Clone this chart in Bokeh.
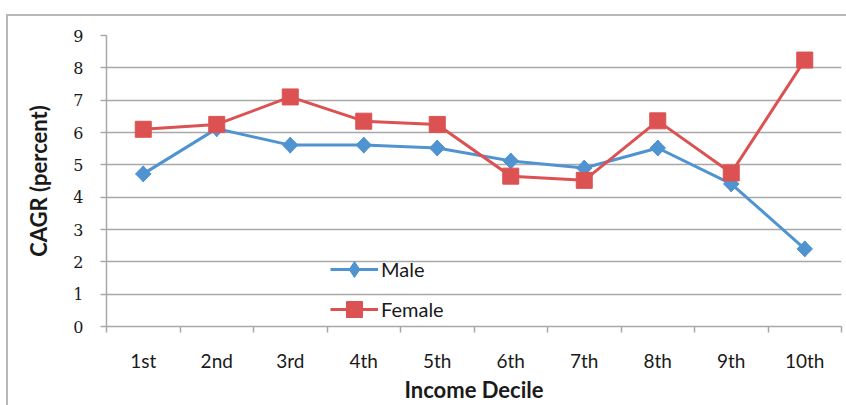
import math
from bokeh.plotting import figure
from bokeh.models import FixedTicker, Range1d, Legend, LegendItem
from bokeh.embed import file_html
from bokeh.resources import INLINE

categories = ["1st", "2nd", "3rd", "4th", "5th", "6th", "7th", "8th", "9th", "10th"]
male = [4.72, 6.12, 5.61, 5.61, 5.52, 5.12, 4.90, 5.52, 4.41, 2.40]
female = [6.10, 6.25, 7.10, 6.35, 6.25, 4.65, 4.52, 6.36, 4.75, 8.24]
y_ticks = [0, 1, 2, 3, 4, 5, 6, 7, 8, 9]

xs = list(range(1, len(categories) + 1))
boundaries = [i + 0.5 for i in range(0, len(categories) + 1)]

BLUE = "#4f94d0"
RED = "#dc5252"
GRID = "#a8a8a8"
TEXT = "#1a1a1a"

p = figure(width=846, height=405, output_backend="svg", toolbar_location=None,
           x_range=Range1d(0.5, len(categories) + 0.5), y_range=Range1d(0, 9),
           min_border_left=106, min_border_right=5, min_border_top=35, min_border_bottom=78)
p.outline_line_color = None
p.background_fill_color = "white"
p.border_fill_alpha = 0
p.styles = {
    "background": "linear-gradient(#b8b8b8,#b8b8b8) 6px 14px / 2px 100% no-repeat, "
                  "linear-gradient(#b8b8b8,#b8b8b8) 6px 14px / 100% 2px no-repeat, white"
}

# grid
p.xgrid.grid_line_color = None
p.ygrid.grid_line_color = GRID
p.ygrid.grid_line_width = 1.5
p.ygrid.ticker = FixedTicker(ticks=y_ticks)

# y axis
p.yaxis.ticker = FixedTicker(ticks=y_ticks)
p.yaxis.axis_line_color = GRID
p.yaxis.axis_line_width = 1.5
p.yaxis.major_tick_line_color = GRID
p.yaxis.major_tick_line_width = 1.5
p.yaxis.major_tick_out = 6
p.yaxis.major_tick_in = 0
p.yaxis.minor_tick_line_color = None
p.yaxis.major_label_text_font = "DejaVu Serif"
p.yaxis.major_label_text_font_size = "16px"
p.yaxis.major_label_text_color = TEXT
p.yaxis.major_label_standoff = 17
p.yaxis.axis_label = "CAGR (percent)"
p.yaxis.axis_label_text_font = "Lato"
p.yaxis.axis_label_text_font_style = "bold"
p.yaxis.axis_label_text_font_size = "22px"
p.yaxis.axis_label_text_color = TEXT
p.yaxis.axis_label_standoff = 18

# x axis
p.xaxis.ticker = FixedTicker(ticks=xs, minor_ticks=boundaries)
p.xaxis.major_label_overrides = {x: c for x, c in zip(xs, categories)}
p.xaxis.axis_line_color = GRID
p.xaxis.axis_line_width = 1.5
p.xaxis.major_tick_line_color = None
p.xaxis.minor_tick_line_color = GRID
p.xaxis.minor_tick_line_width = 1.5
p.xaxis.minor_tick_out = 6
p.xaxis.minor_tick_in = 0
p.xaxis.major_tick_out = 0
p.xaxis.major_tick_in = 0
p.xaxis.major_label_text_font = "Lato"
p.xaxis.major_label_text_font_size = "19px"
p.xaxis.major_label_text_color = TEXT
p.xaxis.major_label_standoff = 16
p.xaxis.axis_label = "Income Decile"
p.xaxis.axis_label_text_font = "Lato"
p.xaxis.axis_label_text_font_style = "bold"
p.xaxis.axis_label_text_font_size = "22px"
p.xaxis.axis_label_text_color = TEXT
p.xaxis.axis_label_standoff = 1

# series
ml = p.line(xs, male, line_color=BLUE, line_width=3)
ms_leg = p.scatter(xs, male, marker="diamond", size=16, fill_color=BLUE, line_color=BLUE)
ms = p.scatter(xs, male, marker="square", size=11, angle=math.pi / 4,
               fill_color=BLUE, line_color=BLUE)
fl = p.line(xs, female, line_color=RED, line_width=3)
fs = p.scatter(xs, female, marker="square", size=16, fill_color=RED, line_color=RED)

legend = Legend(items=[LegendItem(label="Male", renderers=[ml, ms_leg]),
                       LegendItem(label="Female", renderers=[fl, fs])],
                location=(224, -3))
legend.border_line_color = None
legend.background_fill_alpha = 0
legend.label_text_font = "Lato"
legend.label_text_font_size = "20px"
legend.label_text_color = TEXT
legend.glyph_width = 48
legend.glyph_height = 40
legend.label_height = 20
legend.spacing = -3
legend.padding = 0
legend.margin = 0
legend.label_standoff = 3
p.add_layout(legend, "center")

open("out.html", "w").write(file_html(p, INLINE))
